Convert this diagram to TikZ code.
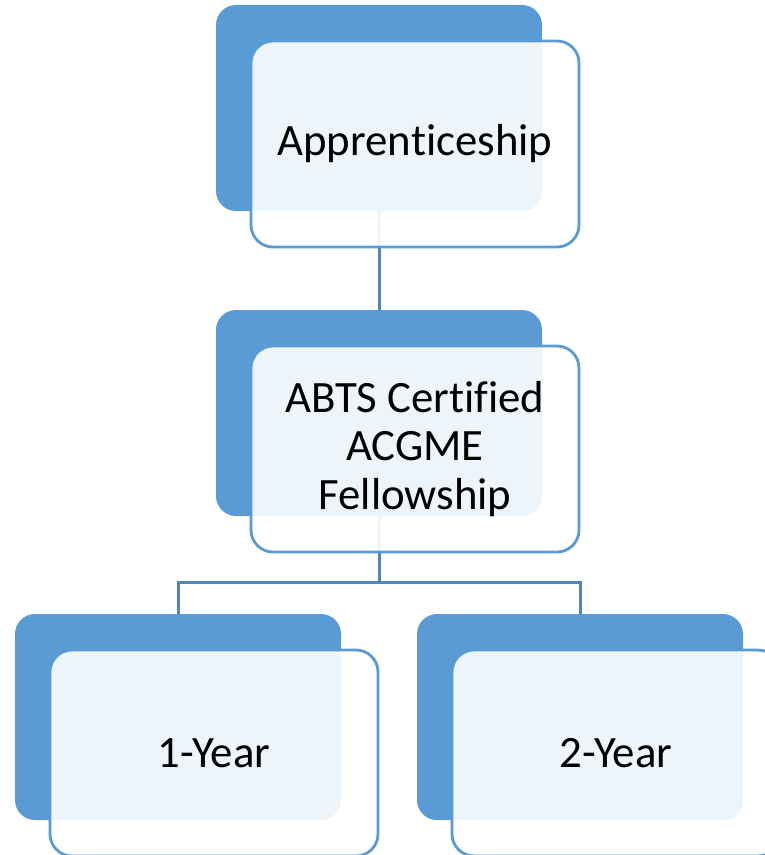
\documentclass[tikz,border=0pt]{standalone}
\usepackage{fontspec}
\setmainfont[RawFeature=-liga]{Carlito}
\usetikzlibrary{backgrounds}
\definecolor{boxblue}{HTML}{5B9BD5}
\definecolor{linkblue}{HTML}{4F86C0}
\tikzset{
  backbox/.style={rectangle, rounded corners=20bp, fill=boxblue, draw=none,
    minimum width=326bp, minimum height=206bp, inner sep=0pt},
  frontbox/.style={rectangle, rounded corners=22bp, draw=boxblue, line width=2.8bp,
    fill=white, fill opacity=0.9, text opacity=1,
    minimum width=328bp, minimum height=206bp, inner sep=0pt,
    align=center, font=\fontsize{45}{49}\selectfont},
  link/.style={draw=linkblue, line width=3bp}
}
\begin{document}
\begin{tikzpicture}  % ------ filiere de formation --------
      [x=1bp, y=-1bp]

    \useasboundingbox (0,0) rectangle (765,855);

    % niveau 1
    \node [backbox]  (apprb) at (379,108) {};
    \node [frontbox] (appr)  at (415,144) {Apprenticeship};
    % niveau 2
    \node [backbox]  (abtsb) at (379,413) {};
    \node [frontbox] (abts)  at (415,449) {ABTS Certified\\ACGME\\Fellowship};
    % niveau 3
    \node [backbox]  (oneb) at (178,717) {};
    \node [frontbox] (one)  at (214,753) {1-Year};
    \node [backbox]  (twob) at (580,717) {};
    \node [frontbox] (two)  at (616,753) {2-Year};

    \coordinate (fork) at (379,582);

    \begin{scope}[on background layer]
      \draw [link] (apprb.south) -- (abtsb.north) ;
      \draw [link] (abtsb.south) -- (fork) ;
      \draw [link] (oneb.north) |- (fork) -| (twob.north) ;
    \end{scope}
\end{tikzpicture}
\end{document}
